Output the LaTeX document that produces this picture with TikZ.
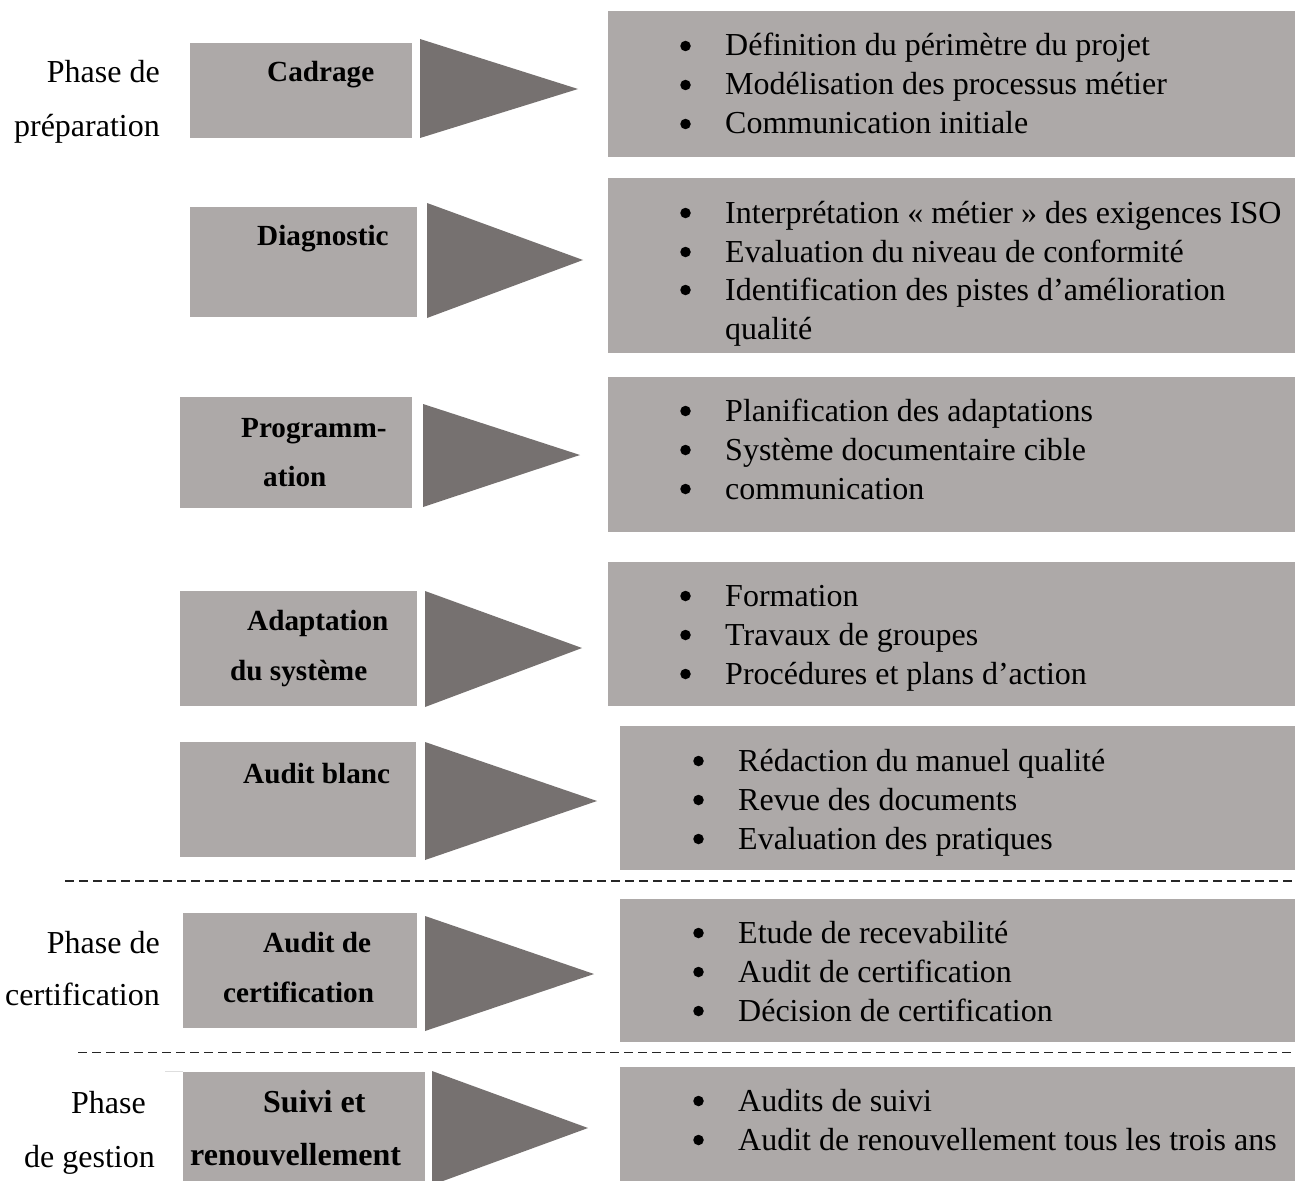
\documentclass[tikz,border=0pt]{standalone}
\usepackage{fontspec}
\setmainfont{Liberation Serif}
\begin{document}
\begin{tikzpicture}[x=1pt,y=-1pt,
  stepbox/.style={fill=boxgray},
  itembox/.style={fill=boxgray},
  arrowhead/.style={fill=trigray},
  sepline/.style={draw=black!85, line width=1.4pt, dash pattern=on 9pt off 5pt},
  body/.style={inner sep=0pt, anchor=base west, font=\fontsize{32}{38}\selectfont},
  phase/.style={body},
  stepname/.style={inner sep=0pt, anchor=base west, font=\fontsize{29.2}{35}\selectfont\bfseries},
  stepnamebig/.style={inner sep=0pt, anchor=base west, font=\fontsize{32}{38}\selectfont\bfseries},
  dot/.style={circle, fill=black, inner sep=0pt, minimum size=10.5pt}
]
\definecolor{boxgray}{RGB}{173,169,168}
\definecolor{trigray}{RGB}{118,113,112}
\definecolor{faint}{RGB}{222,222,222}

\useasboundingbox (0,0) rectangle (1295,1180);
\fill[white] (0,0) rectangle (1295,1180);
\begin{scope}
\clip (0,0) rectangle (1295,1180);

% ---- step boxes (left column)
\fill[stepbox] (190,43)   rectangle (412,138);
\fill[stepbox] (190,207)  rectangle (417,317);
\fill[stepbox] (180,397)  rectangle (412,508);
\fill[stepbox] (180,591)  rectangle (417,706);
\fill[stepbox] (180,742)  rectangle (416,857);
\fill[stepbox] (183,913)  rectangle (417,1028);
\fill[stepbox] (183,1072) rectangle (425,1190);
\draw[faint, line width=0.8pt] (165,1071.6) -- (183,1071.6);

% ---- arrow heads
\fill[arrowhead] (420,39)   -- (578,89)   -- (420,138)  -- cycle;
\fill[arrowhead] (427,203)  -- (583,260)  -- (427,318)  -- cycle;
\fill[arrowhead] (423,404)  -- (580,455)  -- (423,507)  -- cycle;
\fill[arrowhead] (425,591)  -- (582,648)  -- (425,707)  -- cycle;
\fill[arrowhead] (425,742)  -- (597,801)  -- (425,860)  -- cycle;
\fill[arrowhead] (425,916)  -- (594,974)  -- (425,1031) -- cycle;
\fill[arrowhead] (432,1071) -- (588,1128) -- (432,1185) -- cycle;

% ---- item boxes (right column)
\fill[itembox] (608,11)   rectangle (1295,157);
\fill[itembox] (608,178)  rectangle (1295,353);
\fill[itembox] (608,377)  rectangle (1295,532);
\fill[itembox] (608,562)  rectangle (1295,706);
\fill[itembox] (620,726)  rectangle (1295,870);
\fill[itembox] (620,899)  rectangle (1295,1042);
\fill[itembox] (620,1067) rectangle (1295,1190);
\end{scope}

% ---- phase separators
\draw[sepline] (65,881)  -- (1295,881);
\draw[sepline] (78,1052.5) -- (1295,1052.5);

% ---- phase labels
\node[phase, anchor=base east] (p1a) at (160,83)  {Phase de};
\node[phase, anchor=base east] (p1b) at (160,136) {préparation};
\node[phase, anchor=base east] (p2a) at (160,953) {Phase de};
\node[phase, anchor=base east] (p2b) at (160,1005) {certification};
\node[phase] (p3a) at (71,1113) {Phase};
\node[phase] (p3b) at (24,1167) {de gestion};

% ---- step names
\node[stepname] (s1)  at (267,82)  {Cadrage};
\node[stepname] (s2)  at (257,245) {Diagnostic};
\node[stepname] (s3a) at (241,437) {Programm-};
\node[stepname] (s3b) at (263,486) {ation};
\node[stepname] (s4a) at (247,630) {Adaptation};
\node[stepname] (s4b) at (230,680) {du système};
\node[stepname] (s5)  at (243,783) {Audit blanc};
\node[stepname] (s6a) at (263,952) {Audit de};
\node[stepname] (s6b) at (223,1002) {certification};
\node[stepnamebig] (s7a) at (263,1112) {Suivi et};
\node[stepnamebig] (s7b) at (190,1165) {renouvellement};

% ---- bullet lists (dot centred about 10pt above the baseline)
\foreach \y/\t [count=\i] in {56/{Définition du périmètre du projet},
                                95/{Modélisation des processus métier},
                                134/{Communication initiale}}
  {\node[dot] (d1\i) at (685.5,\y-10) {}; \node[body] (i1\i) at (725,\y) {\t};}

\foreach \y/\t [count=\i] in {223/{Interprétation « métier » des exigences ISO},
                                262/{Evaluation du niveau de conformité},
                                300/{Identification des pistes d’amélioration}}
  {\node[dot] (d2\i) at (685.5,\y-10) {}; \node[body] (i2\i) at (725,\y) {\t};}
\node[body] (i24) at (725,339) {qualité};

\foreach \y/\t [count=\i] in {421/{Planification des adaptations},
                                460/{Système documentaire cible},
                                499/{communication}}
  {\node[dot] (d3\i) at (685.5,\y-10) {}; \node[body] (i3\i) at (725,\y) {\t};}

\foreach \y/\t [count=\i] in {606/{Formation},
                                645/{Travaux de groupes},
                                684/{Procédures et plans d’action}}
  {\node[dot] (d4\i) at (685.5,\y-10) {}; \node[body] (i4\i) at (725,\y) {\t};}

\foreach \y/\t [count=\i] in {771/{Rédaction du manuel qualité},
                                810/{Revue des documents},
                                849/{Evaluation des pratiques}}
  {\node[dot] (d5\i) at (698.5,\y-10) {}; \node[body] (i5\i) at (738,\y) {\t};}

\foreach \y/\t [count=\i] in {943/{Etude de recevabilité},
                                982/{Audit de certification},
                                1021/{Décision de certification}}
  {\node[dot] (d6\i) at (698.5,\y-10) {}; \node[body] (i6\i) at (738,\y) {\t};}

\foreach \y/\t [count=\i] in {1111/{Audits de suivi},
                                1150/{Audit de renouvellement tous les trois ans}}
  {\node[dot] (d7\i) at (698.5,\y-10) {}; \node[body] (i7\i) at (738,\y) {\t};}
\end{tikzpicture}
\end{document}
